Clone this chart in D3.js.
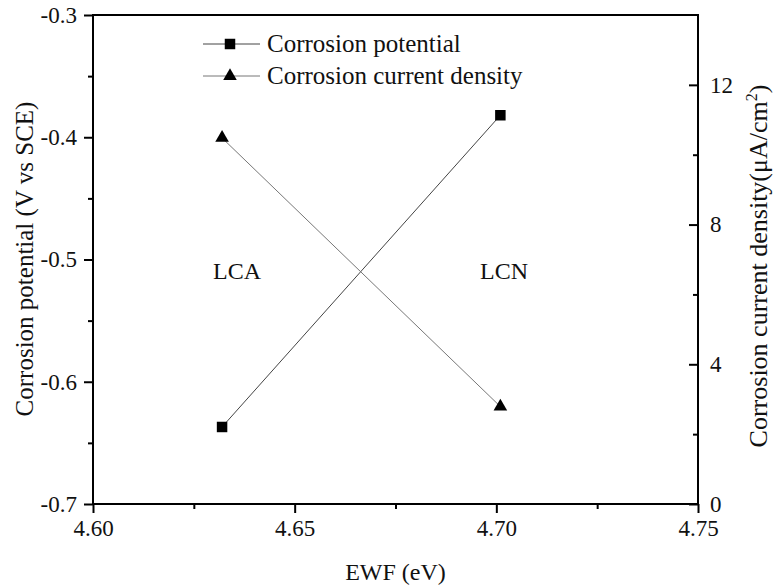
<!DOCTYPE html>
<html><head><meta charset="utf-8">
<script src="https://cdn.jsdelivr.net/npm/d3@7"></script>
<style>body{margin:0;background:#fff}svg{display:block}</style>
</head><body><svg id="c" width="774" height="588"></svg>
<script>
const samples = ["LCA", "LCN"];
const ewf = [4.632, 4.701];
const potential = [-0.637, -0.382];
const currentDensity = [10.48, 2.79];
const xTicks = [4.60, 4.65, 4.70, 4.75];
const xMinor = [4.625, 4.675, 4.725];
const yLeftTicks = [-0.3, -0.4, -0.5, -0.6, -0.7];
const yLeftMinor = [-0.35, -0.45, -0.55, -0.65];
const yRightTicks = [0, 4, 8, 12];
const yRightMinor = [2, 6, 10];

const FONT = '"Liberation Serif", "Times New Roman", serif';
const svg = d3.select("#c").attr("font-family", FONT).attr("fill", "#111");
const L = 93, R = 698, T = 15, B = 504;
const x = d3.scaleLinear().domain([4.60, 4.75]).range([L, R]);
const yL = d3.scaleLinear().domain([-0.7, -0.3]).range([B, T]);
const yR = d3.scaleLinear().domain([0, 14]).range([B, T]);

svg.append("rect").attr("x", L).attr("y", T).attr("width", R - L).attr("height", B - T)
  .attr("fill", "none").attr("stroke", "#000").attr("stroke-width", 2);

function styleAxis(g) {
  g.attr("font-family", FONT).attr("font-size", 23);
  g.select(".domain").remove();
  g.selectAll(".tick line").attr("stroke", "#000").attr("stroke-width", 2);
  g.selectAll(".tick text").attr("fill", "#111").attr("font-family", FONT).attr("font-size", 23);
}
const fmtL = v => d3.format(".1f")(v).replace("−", "-");

svg.append("g").attr("transform", `translate(0,${B})`)
  .call(d3.axisBottom(x).tickValues(xTicks).tickFormat(d3.format(".2f")).tickSize(9).tickPadding(7)).call(styleAxis);
svg.append("g").attr("transform", `translate(0,${B})`)
  .call(d3.axisBottom(x).tickValues(xMinor).tickFormat("").tickSize(5)).call(styleAxis);
svg.append("g").attr("transform", `translate(${L},0)`)
  .call(d3.axisLeft(yL).tickValues(yLeftTicks).tickFormat(fmtL).tickSize(9).tickPadding(7)).call(styleAxis);
svg.append("g").attr("transform", `translate(${L},0)`)
  .call(d3.axisLeft(yL).tickValues(yLeftMinor).tickFormat("").tickSize(5)).call(styleAxis);
const ra = svg.append("g").attr("transform", `translate(${R},0)`)
  .call(d3.axisRight(yR).tickValues(yRightTicks).tickFormat(d3.format("d")).tickSize(0).tickPadding(12)).call(styleAxis);
ra.selectAll(".tick line").attr("x1", -9).attr("x2", 0);
const rm = svg.append("g").attr("transform", `translate(${R},0)`)
  .call(d3.axisRight(yR).tickValues(yRightMinor).tickFormat("").tickSize(0)).call(styleAxis);
rm.selectAll(".tick line").attr("x1", -5).attr("x2", 0);

const line1 = d3.line().x((d, i) => x(ewf[i])).y(d => yL(d));
const line2 = d3.line().x((d, i) => x(ewf[i])).y(d => yR(d));
svg.append("path").attr("d", line1(potential)).attr("fill", "none").attr("stroke", "#444").attr("stroke-width", 1);
svg.append("path").attr("d", line2(currentDensity)).attr("fill", "none").attr("stroke", "#777").attr("stroke-width", 1);

const sq = d3.symbol().type(d3.symbolSquare).size(110);
const tri = d3.symbol().type(d3.symbolTriangle).size(80);
potential.forEach((v, i) => svg.append("path").attr("d", sq()).attr("transform", `translate(${x(ewf[i])},${yL(v)})`).attr("fill", "#000"));
currentDensity.forEach((v, i) => svg.append("path").attr("d", tri()).attr("transform", `translate(${x(ewf[i])},${yR(v)})`).attr("fill", "#000"));

samples.forEach((s, i) => svg.append("text").attr("x", i === 0 ? 237 : 504).attr("y", 279)
  .attr("text-anchor", "middle").attr("font-size", 24).text(s));

const leg = [{t: "Corrosion potential", s: sq, c: "#444", y: 44}, {t: "Corrosion current density", s: tri, c: "#777", y: 76}];
leg.forEach(d => {
  svg.append("line").attr("x1", 203).attr("x2", 260).attr("y1", d.y).attr("y2", d.y).attr("stroke", d.c).attr("stroke-width", 1);
  svg.append("path").attr("d", d.s()).attr("transform", `translate(230,${d.y})`).attr("fill", "#000");
  svg.append("text").attr("x", 267).attr("y", d.y + 8).attr("font-size", 25).text(d.t);
});

svg.append("text").attr("x", (L + R) / 2).attr("y", 580).attr("text-anchor", "middle").attr("font-size", 24).text("EWF (eV)");
svg.append("text").attr("transform", `translate(33,259) rotate(-90)`).attr("text-anchor", "middle")
  .attr("font-size", 25).text("Corrosion potential (V vs SCE)");
const rt = svg.append("text").attr("transform", `translate(767,266) rotate(-90)`).attr("text-anchor", "middle")
  .attr("font-size", 26);
rt.append("tspan").text("Corrosion current density(μA/cm");
rt.append("tspan").attr("dy", -10).attr("font-size", 16).text("2");
rt.append("tspan").attr("dy", 10).text(")");
</script></body></html>
